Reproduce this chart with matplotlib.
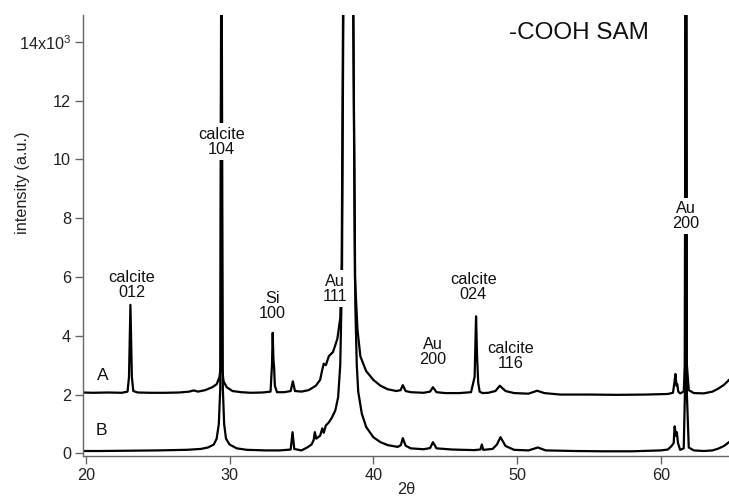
# =========================
# IMPORT LIBRARIES
# =========================

import matplotlib
matplotlib.use("Agg")
import matplotlib.pyplot as plt

plt.rcParams['font.family'] = ['Liberation Sans', 'DejaVu Sans']
plt.rcParams['mathtext.fontset'] = 'custom'
plt.rcParams['mathtext.rm'] = 'Liberation Sans'
plt.rcParams['mathtext.it'] = 'Liberation Sans'

# =========================
# DATA
# =========================

# pattern A (offset by ~2k counts)
a_two_theta = [19.8, 20.5, 21.5, 22.5, 22.9, 23.0, 23.1, 23.2, 23.3, 23.6,
               24.5, 25.5, 26.5, 27.2, 27.5, 27.8, 28.3, 28.8, 29.1, 29.3,
               29.38, 29.43, 29.48, 29.58, 29.8, 30.2, 30.8, 31.5, 32.3, 32.85,
               32.95, 33.0, 33.05, 33.1, 33.15, 33.3, 33.8, 34.25, 34.4, 34.55,
               35.0, 35.5, 36.0, 36.3, 36.45, 36.55, 36.7, 36.9, 37.2, 37.5,
               37.7, 37.8, 37.9, 38.25, 38.6, 38.72, 38.9, 39.1, 39.5, 40.0,
               40.5, 41.0, 41.6, 41.9, 42.05, 42.25, 42.6, 43.5, 43.95, 44.15,
               44.4, 45.0, 46.0, 46.8, 47.05, 47.15, 47.22, 47.3, 47.4, 47.6,
               48.0, 48.5, 48.8, 49.2, 49.8, 50.8, 51.4, 51.9, 53.0, 55.0,
               57.0, 59.0, 60.5, 60.85, 60.95, 61.02, 61.1, 61.15, 61.22, 61.35,
               61.6, 61.68, 61.75, 61.82, 61.95, 62.3, 63.0, 63.6, 64.0, 64.4,
               64.8]
a_counts = [2.07, 2.06, 2.07, 2.06, 2.1, 2.6, 5.05, 2.6, 2.12, 2.07,
            2.06, 2.06, 2.07, 2.1, 2.14, 2.1, 2.15, 2.25, 2.35, 2.6,
            2.95, 20.0, 2.9, 2.45, 2.25, 2.12, 2.08, 2.06, 2.07, 2.1,
            3.0, 4.1, 3.2, 2.9, 2.3, 2.08, 2.08, 2.12, 2.45, 2.12,
            2.1, 2.15, 2.3, 2.5, 2.85, 3.05, 3.0, 3.3, 3.45, 3.9,
            4.6, 6.5, 15.5, 60.0, 15.5, 6.0, 4.2, 3.3, 2.8, 2.5,
            2.3, 2.18, 2.12, 2.15, 2.32, 2.12, 2.08, 2.06, 2.1, 2.25,
            2.08, 2.05, 2.05, 2.08, 2.6, 4.66, 3.3, 2.4, 2.1, 2.05,
            2.06, 2.12, 2.3, 2.12, 2.05, 2.03, 2.13, 2.05, 2.0, 2.0,
            1.99, 2.0, 2.02, 2.06, 2.4, 2.7, 2.3, 2.35, 2.1, 2.04,
            2.1, 3.0, 30.0, 3.0, 2.15, 2.05, 2.04, 2.1, 2.2, 2.33,
            2.52]

# pattern B
b_two_theta = [19.8, 21.0, 23.0, 25.0, 27.0, 28.0, 28.5, 28.9, 29.1, 29.25,
               29.35, 29.43, 29.53, 29.62, 29.75, 30.0, 30.5, 31.2, 32.5, 33.5,
               34.25, 34.38, 34.5, 35.0, 35.4, 35.7, 35.85, 35.93, 36.03, 36.3,
               36.45, 36.55, 36.7, 36.9, 37.1, 37.35, 37.55, 37.7, 37.82, 37.92,
               38.25, 38.6, 38.75, 38.85, 38.95, 39.2, 39.5, 40.0, 40.5, 41.0,
               41.7, 41.92, 42.05, 42.25, 42.6, 43.5, 43.95, 44.15, 44.4, 45.5,
               47.0, 47.45, 47.55, 47.65, 48.3, 48.6, 48.85, 49.2, 49.8, 50.8,
               51.45, 52.0, 54.0, 56.0, 58.0, 60.0, 60.5, 60.75, 60.9, 60.97,
               61.05, 61.12, 61.2, 61.35, 61.6, 61.68, 61.75, 61.82, 61.95, 62.3,
               63.0, 63.6, 64.0, 64.4, 64.8]
b_counts = [0.08, 0.08, 0.09, 0.1, 0.12, 0.15, 0.2, 0.3, 0.5, 1.0,
            2.2, 20.0, 2.2, 1.0, 0.5, 0.3, 0.17, 0.12, 0.1, 0.1,
            0.13, 0.72, 0.15, 0.1, 0.2, 0.3, 0.45, 0.72, 0.5, 0.6,
            0.85, 0.7, 0.95, 1.05, 1.2, 1.45, 1.9, 3.0, 6.0, 15.5,
            60.0, 15.5, 5.0, 3.0, 2.1, 1.35, 0.9, 0.55, 0.38, 0.28,
            0.22, 0.28, 0.52, 0.26, 0.17, 0.14, 0.18, 0.38, 0.17, 0.13,
            0.11, 0.13, 0.3, 0.12, 0.15, 0.3, 0.55, 0.25, 0.12, 0.1,
            0.2, 0.1, 0.08, 0.07, 0.07, 0.1, 0.13, 0.25, 0.35, 0.92,
            0.6, 0.72, 0.35, 0.12, 0.17, 2.0, 30.0, 2.0, 0.2, 0.1,
            0.08, 0.1, 0.16, 0.25, 0.4]

# peak labels: text, 2theta, height of label centre
peak_labels = ["calcite\n012", "calcite\n104", "Si\n100", "Au\n111",
               "Au\n200", "calcite\n024", "calcite\n116", "Au\n200"]
peak_label_x = [23.2, 29.42, 33.0, 37.35, 44.15, 46.95, 49.55, 61.74]
peak_label_y = [5.72, 10.6, 5.0, 5.6, 3.45, 5.65, 3.3, 8.07]

y_ticks = [0, 2, 4, 6, 8, 10, 12, 14]
y_tick_labels = ["0", "2", "4", "6", "8", "10", "12", "14x10$^{3}$"]
x_ticks = [20, 30, 40, 50, 60]

# =========================
# PLOT
# =========================

fig = plt.figure(figsize=(7.29, 4.99), dpi=100)
ax = fig.add_axes([83 / 729, 43 / 499, 646 / 729, 441 / 499])

ax.plot(a_two_theta, a_counts, color="black", linewidth=1.6, zorder=2)
ax.plot(b_two_theta, b_counts, color="black", linewidth=1.6, zorder=2)

for label, px, py in zip(peak_labels, peak_label_x, peak_label_y):
    ax.text(px, py, label, ha="center", va="center", fontsize=11.7,
            color="#111111", linespacing=1.0, zorder=10,
            bbox=dict(facecolor="white", edgecolor="none",
                      boxstyle="square,pad=0.2"))

ax.text(21.2, 2.66, "A", ha="center", va="center", fontsize=12.5, color="#111111")
ax.text(21.1, 0.79, "B", ha="center", va="center", fontsize=12.5, color="#111111")
ax.text(54.3, 14.29, "-COOH SAM", ha="center", va="center", fontsize=17.5,
        color="#111111")

ax.set_xlim(19.8, 64.75)
ax.set_ylim(-0.09, 14.91)
ax.set_xticks(x_ticks)
ax.set_yticks(y_ticks)
ax.set_yticklabels(y_tick_labels)

ax.spines["top"].set_visible(False)
ax.spines["right"].set_visible(False)
for side in ["left", "bottom"]:
    ax.spines[side].set_color("#666666")
    ax.spines[side].set_linewidth(1.0)
ax.tick_params(direction="out", length=5.5, width=1.0, color="#666666",
               labelsize=11.7, labelcolor="#222222", pad=3)

ax.set_xlabel("2\u03b8", fontsize=11.7, color="#222222")
ax.set_ylabel("intensity (a.u.)", fontsize=11.7, color="#222222")
ax.xaxis.set_label_coords(0.5, -0.06)
ax.yaxis.set_label_coords(-0.082, 0.62)

fig.savefig("out.png", dpi=100)
